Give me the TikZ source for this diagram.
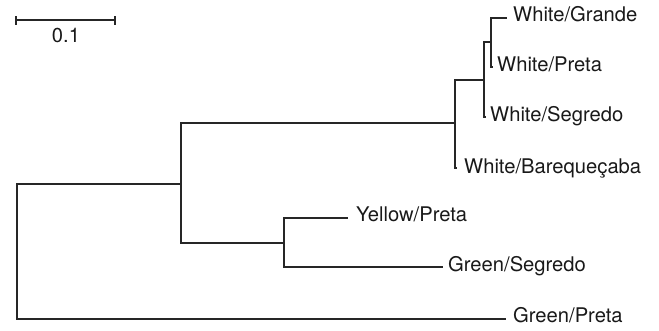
\documentclass[tikz,border=0pt]{standalone}
\usepackage{fontspec}
\setmainfont{TeX Gyre Heros}
\tikzset{
  branch/.style={line width=1.2pt, draw=black!85, line cap=rect},
  leaf/.style={anchor=west, inner sep=0pt, text height=0.716em, text depth=0pt,
    font=\fontsize{20.2}{24}\selectfont, text=black!90},
  scalelabel/.style={anchor=center, inner sep=0pt, text height=0.716em, text depth=0pt,
    font=\fontsize{20.2}{24}\selectfont, text=black!90},
}
\begin{document}
\begin{tikzpicture}[x=1pt, y=-1pt]
\useasboundingbox (0,0) rectangle (659,330);

% scale bar
\coordinate (sbl) at (16,20);
\coordinate (sbr) at (115,20);
\draw[branch, line cap=butt] (sbl) -- (sbr);
\draw[branch, line cap=butt] ([yshift=-4.5pt]sbl) -- ([yshift=4.5pt]sbl);
\draw[branch, line cap=butt] ([yshift=-4.5pt]sbr) -- ([yshift=4.5pt]sbr);
\node[scalelabel] (sbt) at (66,39) {0.1};

% internal nodes (vertical bars)
\coordinate (rootT) at (17,184);  \coordinate (rootB) at (17,319);
\coordinate (aT) at (181,123);    \coordinate (aB) at (181,243);
\coordinate (wT) at (455,80);     \coordinate (wB) at (455,168);
\coordinate (w1T) at (484,42);    \coordinate (w1B) at (484,117);
\coordinate (w2T) at (491,18);    \coordinate (w2B) at (491,67);
\coordinate (gT) at (284,218);    \coordinate (gB) at (284,267);

% tips
\coordinate (tGrande) at (506,18);
\coordinate (tPreta) at (492,67);
\coordinate (tSegredo) at (485,117);
\coordinate (tBareq) at (456,168);
\coordinate (tYellow) at (347,218);
\coordinate (tGreenS) at (442,267);
\coordinate (tGreenP) at (505,319);

% labels
\node[leaf] (lGrande)  at (513,18)  {White/Grande};
\node[leaf] (lPreta)   at (497,68)  {White/Preta};
\node[leaf] (lSegredo) at (490,118) {White/Segredo};
\node[leaf] (lBareq)   at (464,170) {White/Barequeçaba};
\node[leaf] (lYellow)  at (356,218) {Yellow/Preta};
\node[leaf] (lGreenS)  at (448,268) {Green/Segredo};
\node[leaf] (lGreenP)  at (513,319) {Green/Preta};

% vertical bars
\draw[branch] (rootT) -- (rootB);
\draw[branch] (aT) -- (aB);
\draw[branch] (wT) -- (wB);
\draw[branch] (w1T) -- (w1B);
\draw[branch] (w2T) -- (w2B);
\draw[branch] (gT) -- (gB);

% horizontal branches
\draw[branch] (rootT) -- (aT |- rootT);
\draw[branch] (rootB) -- (tGreenP);
\draw[branch] (aT) -- (wT |- aT);
\draw[branch] (aB) -- (gT |- aB);
\draw[branch] (wT) -- (w1T |- wT);
\draw[branch] (w1T) -- (w2T |- w1T);
\draw[branch] (w2T) -- (tGrande);
\draw[branch] (w2B) -- (tPreta);
\draw[branch] (w1B) -- (tSegredo);
\draw[branch] (wB) -- (tBareq);
\draw[branch] (gT) -- (tYellow);
\draw[branch] (gB) -- (tGreenS);
\end{tikzpicture}
\end{document}
